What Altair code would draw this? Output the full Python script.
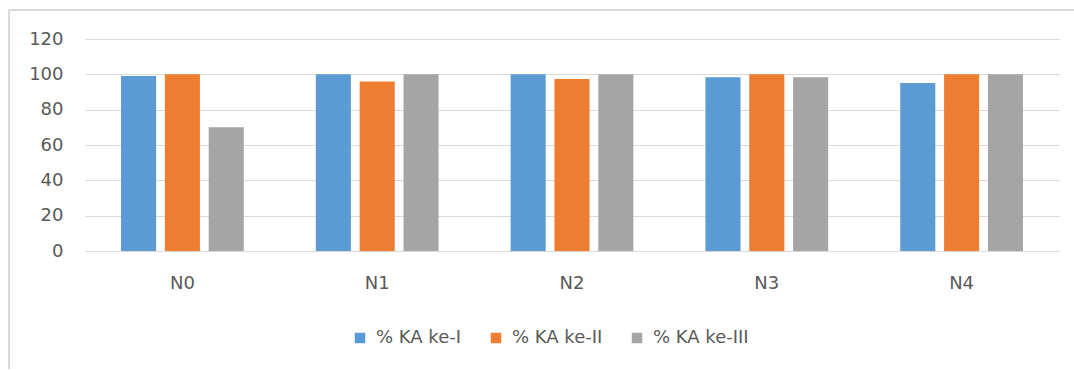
import altair as alt
import pandas as pd

categories = ["N0", "N1", "N2", "N3", "N4"]
series = ["% KA ke-I", "% KA ke-II", "% KA ke-III"]
ke1 = [99, 100, 100, 98.3, 95.1]
ke2 = [100, 96, 97.4, 100, 100]
ke3 = [70, 100, 100, 98.4, 100]
colors = ["#5B9BD5", "#ED7D31", "#A5A5A5"]

rows = []
for i, c in enumerate(categories):
    for s, vals in zip(series, [ke1, ke2, ke3]):
        rows.append({"cat": c, "series": s, "value": vals[i]})
df = pd.DataFrame(rows)

FONT = "DejaVu Sans"
FS = 18

bars = alt.Chart(df).mark_bar().encode(
    x=alt.X("cat:N", sort=categories, title=None,
            scale=alt.Scale(paddingInner=0.37, paddingOuter=0.185),
            axis=alt.Axis(labelAngle=0, ticks=False, domain=False, grid=False,
                          labelPadding=23, labelFontSize=FS, labelColor="#595959",
                          labelFont=FONT)),
    xOffset=alt.XOffset("series:N", sort=series,
                        scale=alt.Scale(paddingInner=0.2, paddingOuter=0)),
    y=alt.Y("value:Q", title=None,
            scale=alt.Scale(domain=[0, 120], nice=False),
            axis=alt.Axis(values=[0, 20, 40, 60, 80, 100, 120], ticks=False, domain=False,
                          gridColor="#d9d9d9", gridWidth=1.2, labelPadding=22,
                          labelFontSize=FS, labelColor="#595959", labelFont=FONT)),
    color=alt.Color("series:N", sort=series,
                    scale=alt.Scale(domain=series, range=colors),
                    legend=alt.Legend(title=None, orient="none", direction="horizontal",
                                      legendX=266, legendY=290,
                                      symbolType="square", symbolSize=110,
                                      symbolStrokeWidth=0, labelFontSize=FS,
                                      labelColor="#595959", labelFont=FONT,
                                      columnPadding=25, symbolOffset=0, labelOffset=7)),
)

border_left = alt.Chart(df).mark_rule(color="#d9d9d9", strokeWidth=1.5).encode(
    x=alt.value(-76), y=alt.value(-29), y2=alt.value(330)
)
border_top = alt.Chart(df).mark_rule(color="#d9d9d9", strokeWidth=1.5).encode(
    x=alt.value(-76), x2=alt.value(990), y=alt.value(-29)
)

chart = alt.layer(bars, border_left, border_top).properties(
    width=974, height=212,
    background="white",
    autosize=alt.AutoSizeParams(type="none"),
    padding={"left": 85, "top": 39, "right": 15, "bottom": 119},
).configure_view(strokeWidth=0, stroke="transparent")

chart.save("out.html", embed_options={"renderer": "svg", "actions": False})
